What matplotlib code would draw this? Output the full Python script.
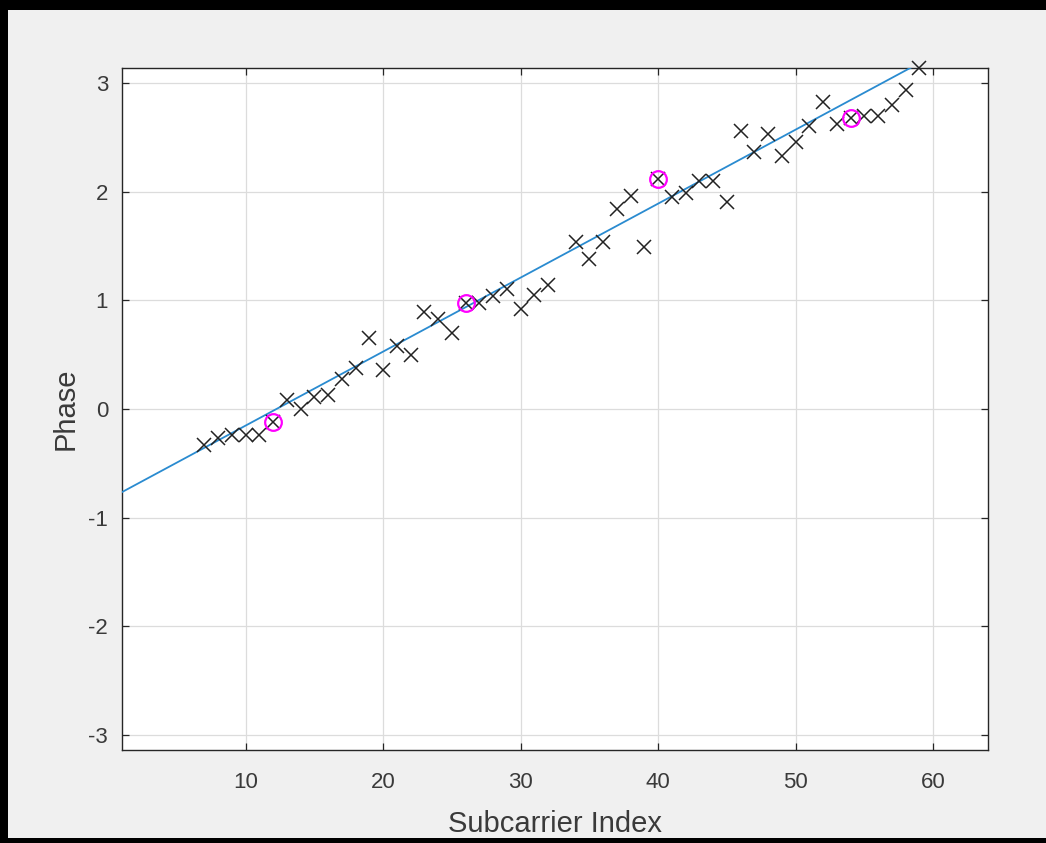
""" Phase vs subcarrier index with linear fit through the pilots """
import numpy as np
import matplotlib
matplotlib.use('Agg')
import matplotlib.pyplot as plt
from matplotlib.patches import Rectangle

# data subcarriers (DC at 33 skipped)
subcarrier = [7, 8, 9, 10, 11, 12, 13, 14, 15, 16, 17, 18, 19, 20, 21, 22, 23, 24, 25, 26,
              27, 28, 29, 30, 31, 32, 34, 35, 36, 37, 38, 39, 40, 41, 42, 43, 44, 45, 46,
              47, 48, 49, 50, 51, 52, 53, 54, 55, 56, 57, 58, 59]
phase = [-0.33, -0.27, -0.24, -0.24, -0.24, -0.12, 0.08, 0.00, 0.11, 0.13, 0.28, 0.38, 0.65,
         0.36, 0.58, 0.50, 0.89, 0.83, 0.70, 0.98, 0.98, 1.04, 1.11, 0.92, 1.05, 1.14,
         1.54, 1.38, 1.54, 1.84, 1.96, 1.49, 2.12, 1.95, 1.99, 2.10, 2.10, 1.91, 2.56,
         2.37, 2.53, 2.33, 2.46, 2.61, 2.83, 2.63, 2.68, 2.70, 2.70, 2.80, 2.94, 3.14]
pilot_idx = [12, 26, 40, 54]
pilot_phase = [-0.12, 0.98, 2.12, 2.68]

x_min, x_max = 1, 64

plt.rcParams['font.family'] = ['Liberation Sans', 'DejaVu Sans']
plt.rcParams['axes.unicode_minus'] = False

fig = plt.figure(figsize=(10.46, 8.43), dpi=100)
fig.patch.set_facecolor('black')
# grey MATLAB figure window inside the black frame
fig.patches.append(Rectangle((8/1046, 5/843), 1 - 8/1046, 1 - 15/843,
                             transform=fig.transFigure, facecolor='#f0f0f0',
                             edgecolor='none', zorder=-10))

ax = fig.add_axes([122/1046, 93/843, 866/1046, 682/843])
ax.set_facecolor('white')

""" Fit line through pilots """
coef = np.polyfit(pilot_idx, pilot_phase, 1)
xf = np.array([x_min, x_max])
ax.plot(xf, np.polyval(coef, xf), color='#2a8bd0', linewidth=1.3, zorder=3)

ax.plot(subcarrier, phase, linestyle='none', marker='x', color='#222222',
        markersize=10, markeredgewidth=1.1, zorder=4, clip_on=False)
ax.plot(pilot_idx, pilot_phase, linestyle='none', marker='o', markerfacecolor='none',
        markeredgecolor='#ff00ff', markersize=12, markeredgewidth=1.6, zorder=5)

ax.set_xlim(x_min, x_max)
ax.set_ylim(-np.pi, np.pi)
ax.set_xticks([10, 20, 30, 40, 50, 60])
ax.set_yticks([-3, -2, -1, 0, 1, 2, 3])
ax.grid(True, color='#dcdcdc', linewidth=0.9)
ax.set_axisbelow(True)

for s in ax.spines.values():
    s.set_color('#262626')
    s.set_linewidth(1.0)
ax.tick_params(direction='in', length=5, width=0.9, color='#262626',
               top=True, right=True, labelsize=16, labelcolor='#3a3a3a')
ax.tick_params(axis='x', pad=16)
ax.tick_params(axis='y', pad=10)

ax.set_xlabel('Subcarrier Index', fontsize=21, color='#3a3a3a', labelpad=12)
ax.set_ylabel('Phase', fontsize=21, color='#3a3a3a', labelpad=6)

fig.savefig('out.png', dpi=100, facecolor=fig.get_facecolor())
